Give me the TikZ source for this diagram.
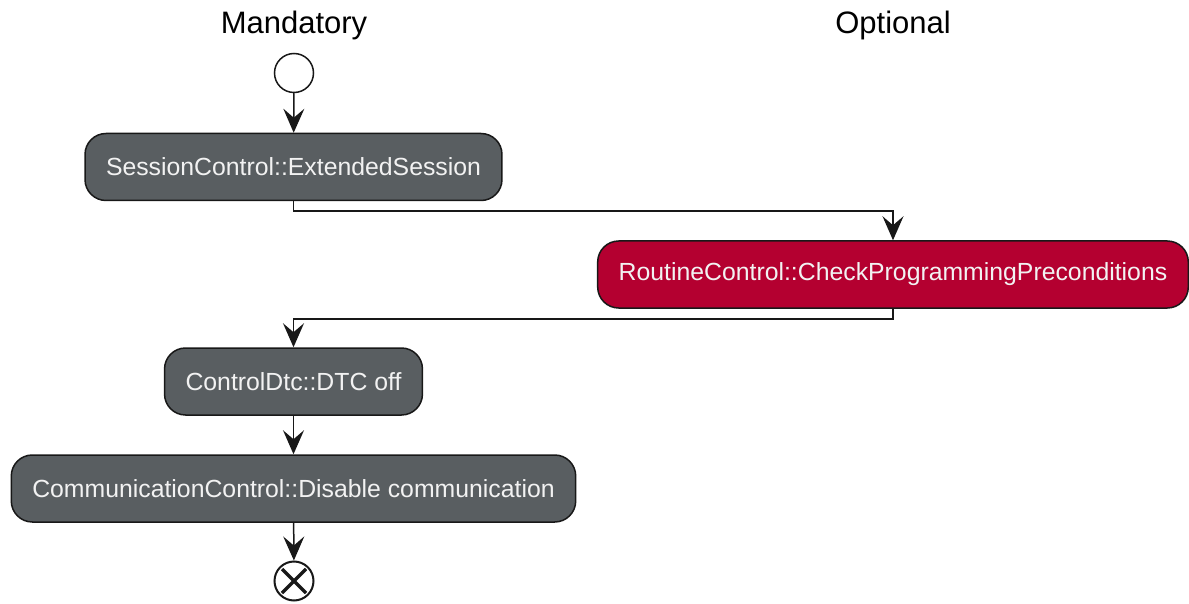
\documentclass[tikz,border=0pt]{standalone}
\usepackage{fontspec}
\setmainfont{Liberation Sans}
\usetikzlibrary{arrows.meta,calc}
\definecolor{actgrey}{RGB}{89,94,97}
\definecolor{actred}{RGB}{180,0,48}
\definecolor{edge}{RGB}{24,24,24}
\tikzset{
  x=1pt, y=-1pt,
  action/.style={draw=edge, line width=1.5pt, fill=actgrey, rounded corners=21pt,
    minimum height=67pt, inner xsep=21pt, text=white!95!black,
    font=\fontsize{24.8}{30}\selectfont},
  optaction/.style={action, fill=actred},
  lane/.style={font=\fontsize{31}{36}\selectfont, text=black},
  arr/.style={draw=edge, line width=1.5pt,
    -{Stealth[length=24pt, width=21pt, inset=9pt]}},
  startnode/.style={circle, draw=edge, line width=1.5pt, fill=white,
    minimum size=39pt, inner sep=0pt},
  stopnode/.style={circle, draw=edge, line width=2pt, fill=white,
    minimum size=39pt, inner sep=0pt,
    path picture={
      \draw[edge, line width=3.5pt]
        ($(path picture bounding box.center)+(-12pt,-12pt)$) -- +(24pt,24pt)
        ($(path picture bounding box.center)+(-12pt,12pt)$) -- +(24pt,-24pt);
    }},
}
\begin{document}
\begin{tikzpicture}
  \useasboundingbox (0,0) rectangle (1189,604);

  % lane headings
  \node[lane] (mand) at (294,25) {Mandatory};
  \node[lane] (opt) at (893,25) {Optional};

  % activity nodes
  \node[startnode] (start) at (294,73) {};
  \node[action] (n1) at (293.5,167) {SessionControl::ExtendedSession};
  \node[optaction] (n2) at (893,274.5) {RoutineControl::CheckProgrammingPreconditions};
  \node[action] (n3) at (293.5,381.5) {ControlDtc::DTC off};
  \node[action] (n4) at (293.5,488.5) {CommunicationControl::Disable communication};
  \node[stopnode] (stop) at (294,581) {};

  % control flow
  \draw[arr] (start) -- (n1);
  \draw[arr] (n1.south) -- ++(0,10) -| (n2.north);
  \draw[arr] (n2.south) -- ++(0,10) -| (n3.north);
  \draw[arr] (n3) -- (n4);
  \draw[arr] (n4) -- (stop);
\end{tikzpicture}
\end{document}
